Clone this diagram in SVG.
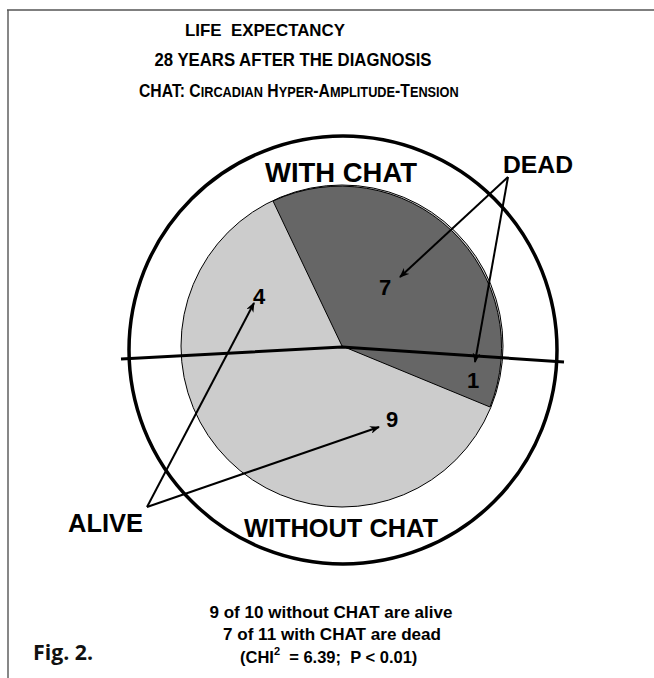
<svg xmlns="http://www.w3.org/2000/svg" width="654" height="678" viewBox="0 0 654 678">
  <style>
    .t { font-family: "Liberation Sans", Arial, sans-serif; font-weight: bold; fill: #000; }
    .fig { font-family: "Open Sans", "Liberation Sans", sans-serif; font-weight: bold; fill: #111; }
    .frame { stroke: #555; stroke-width: 1.4; fill: none; }
    .arrow { stroke: #000; stroke-width: 2; fill: none; marker-end: url(#head); }
    .sc { font-size: 15px; }
  </style>
  <defs>
    <marker id="head" viewBox="0 0 10 8" refX="9" refY="4" markerWidth="10" markerHeight="8" markerUnits="userSpaceOnUse" orient="auto">
      <path d="M0,0 L10,4 L0,8 L3,4 z" fill="#000"/>
    </marker>
  </defs>

  <rect width="654" height="678" fill="#fff"/>

  <!-- page frame (top and left rule) -->
  <path class="frame" d="M7,10 L654,10 M8,10 L8,678"/>

  <!-- heading -->
  <g id="title">
    <text class="t" x="265" y="36" font-size="17" text-anchor="middle" textLength="160" lengthAdjust="spacingAndGlyphs" xml:space="preserve">LIFE  EXPECTANCY</text>
    <text class="t" x="293" y="66" font-size="17.5" text-anchor="middle" textLength="277" lengthAdjust="spacingAndGlyphs">28 YEARS AFTER THE DIAGNOSIS</text>
    <g transform="translate(139,97) scale(0.85,1)">
      <text class="t" x="0" y="0" font-size="18.5">CHAT: C<tspan class="sc">IRCADIAN</tspan> H<tspan class="sc">YPER</tspan>-A<tspan class="sc">MPLITUDE</tspan>-T<tspan class="sc">ENSION</tspan></text>
    </g>
  </g>

  <!-- pie of outcomes -->
  <g id="pie">
    <circle cx="342" cy="346" r="161" fill="#cccccc" stroke="#000" stroke-width="1"/>
    <path d="M342,346 L273,201 A161,161 0 0 1 490,407 Z" fill="#666666" stroke="#000" stroke-width="1"/>
  </g>

  <!-- outer ring and divider -->
  <g id="ring">
    <circle cx="343" cy="350" r="214" fill="none" stroke="#000" stroke-width="3.5"/>
    <path d="M121,359 L342,347 L564,362" fill="none" stroke="#000" stroke-width="3"/>
  </g>

  <!-- group labels -->
  <g id="with-chat">
    <text class="t" x="265" y="182" font-size="27" textLength="152" lengthAdjust="spacingAndGlyphs">WITH CHAT</text>
  </g>
  <g id="without-chat">
    <text class="t" x="244" y="537" font-size="25.5" textLength="194" lengthAdjust="spacingAndGlyphs">WITHOUT CHAT</text>
  </g>

  <!-- counts -->
  <g id="count-7"><text class="t" x="379" y="295" font-size="22">7</text></g>
  <g id="count-1"><text class="t" x="467" y="388" font-size="22">1</text></g>
  <g id="count-4"><text class="t" x="253" y="304" font-size="22">4</text></g>
  <g id="count-9"><text class="t" x="386" y="427" font-size="22">9</text></g>

  <!-- callout labels -->
  <g id="dead"><text class="t" x="503" y="173" font-size="24.5" textLength="70" lengthAdjust="spacingAndGlyphs">DEAD</text></g>
  <g id="alive"><text class="t" x="68" y="532" font-size="25" textLength="75" lengthAdjust="spacingAndGlyphs">ALIVE</text></g>

  <!-- connectors -->
  <g id="connectors">
    <path class="arrow" d="M508,177 L400,277"/>
    <path class="arrow" d="M508,177 L475,362"/>
    <path class="arrow" d="M147,507 L254,303"/>
    <path class="arrow" d="M147,507 L379,427"/>
  </g>

  <!-- summary -->
  <g id="summary">
    <text class="t" x="331" y="618" font-size="16.5" text-anchor="middle" textLength="243" lengthAdjust="spacingAndGlyphs">9 of 10 without CHAT are alive</text>
    <text class="t" x="332" y="640" font-size="16.5" text-anchor="middle" textLength="218" lengthAdjust="spacingAndGlyphs">7 of 11 with CHAT are dead</text>
    <text class="t" x="240" y="663" font-size="16.5" xml:space="preserve">(CHI<tspan font-size="11" dy="-8">2</tspan><tspan dy="8">  = 6.39;  P &lt; 0.01)</tspan></text>
  </g>

  <g id="fig-label">
    <text class="fig" x="33" y="660" font-size="21" textLength="60" lengthAdjust="spacingAndGlyphs">Fig. 2.</text>
  </g>
</svg>
